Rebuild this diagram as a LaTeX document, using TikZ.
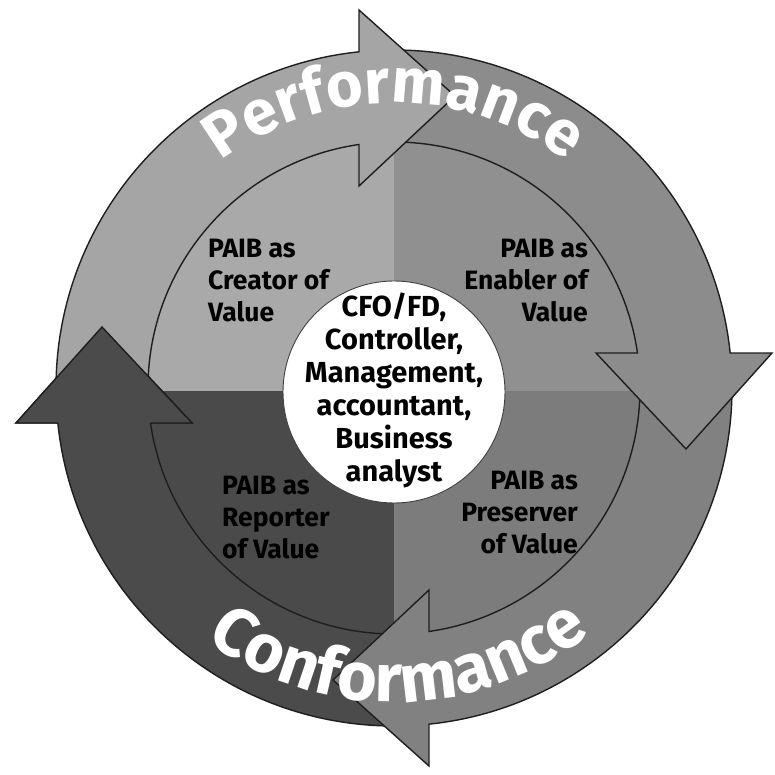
\documentclass[tikz,border=0pt]{standalone}
\usepackage{fontspec}
\setmainfont{Fira Sans}
\usetikzlibrary{decorations.text}
\definecolor{clight}{HTML}{A5A5A5}
\definecolor{cmid}{HTML}{8C8C8C}
\definecolor{cmidb}{HTML}{818181}
\definecolor{cdark}{HTML}{4B4B4B}
\definecolor{qTL}{HTML}{A9A9A9}
\definecolor{qTR}{HTML}{909090}
\definecolor{qBR}{HTML}{7C7C7C}
\definecolor{qBL}{HTML}{4A4A4A}
\definecolor{edgec}{HTML}{1E1E1E}
\begin{document}
\begin{tikzpicture}[x=1pt,y=1pt,
  arrowline/.style={draw=edgec, line width=1.4pt, line join=miter},
  ringarrow/.pic={
    \filldraw[fill=#1, arrowline]
      (182.54:338) arc[start angle=182.54, end angle=95.94, radius=338]
      -- (-35,378) -- (61,292) -- (-35,202)
      -- (98.18:246) arc[start angle=98.18, end angle=183.49, radius=246] -- cycle;
  },
  lab/.style={font=\fontsize{26.5}{32}\selectfont\bfseries, text=black, inner sep=0pt},
  hubtext/.style={font=\fontsize{29}{33}\selectfont\bfseries, text=black, inner sep=0pt, align=center},
  bigtext/.style 2 args={decorate, decoration={text along path, text align=center,
      text={|\fontsize{#1}{#1}\selectfont\bfseries\color{white}|#2}}}
]
\useasboundingbox (-394,-387) rectangle (381,388);
\fill[white] (-394,-387) rectangle (381,388);

% quadrants of the inner disc
\begin{scope}
  \clip (0,0) circle (246);
  \fill[qTL] (-250,-3) rectangle (0,250);
  \fill[qTR] (0,-3) rectangle (250,250);
  \fill[qBR] (0,-3) rectangle (250,-250);
  \fill[qBL] (-250,-3) rectangle (0,-250);
\end{scope}

% the four curved arrows
\pic[rotate=90] {ringarrow=cdark};
\pic[rotate=180] {ringarrow=cmidb};
\pic[rotate=-90] {ringarrow=cmid};
\pic {ringarrow=clight};
% head of the dark arrow again, over the light arrow's tail
\begin{scope}[rotate=90]
  \fill[cdark] (-35,378) -- (61,292) -- (-35,202) -- cycle;
  \draw[arrowline] (95.94:338) -- (-35,378) -- (61,292) -- (-35,202) -- (98.18:246);
\end{scope}

% centre disc
\node[circle, draw=black!75, line width=0.9pt, fill=white, minimum size=222pt, inner sep=0pt] (hub) at (0,-4) {};
\node[hubtext] (hubtxt) at (0,-2) {CFO/FD,\\Controller,\\Management,\\accountant,\\Business\\analyst};

% quadrant labels
\node[lab, align=left, anchor=west] (creator) at (-186,107) {PAIB as\\Creator of\\Value};
\node[lab, align=right, anchor=east] (enabler) at (194,107) {PAIB as\\Enabler of\\Value};
\node[lab, align=left, anchor=west] (reporter) at (-172,-130) {PAIB as\\Reporter\\of Value};
\node[lab, align=right, anchor=east] (preserver) at (184,-125) {PAIB as\\Preserver\\of Value};

% curved ring texts
\path[bigtext={63}{Performance}] (160:285) arc[start angle=160, end angle=20, radius=285];
\path[bigtext={68}{Conformance}] (212:314) arc[start angle=212, end angle=330, radius=314];
\end{tikzpicture}
\end{document}
